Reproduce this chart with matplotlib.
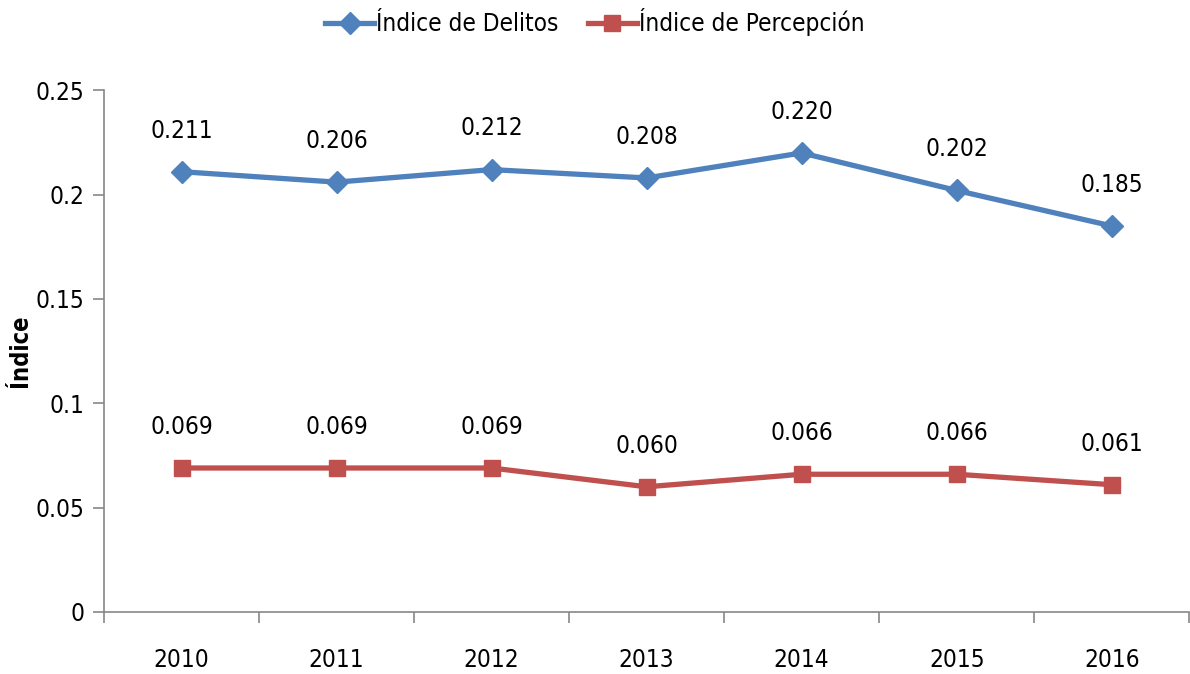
import matplotlib
matplotlib.use("Agg")
import matplotlib.pyplot as plt
from matplotlib.ticker import FixedLocator, NullFormatter

plt.rcParams['font.family'] = ['DejaVu Sans']
plt.rcParams['font.stretch'] = 'condensed'

years = ['2010', '2011', '2012', '2013', '2014', '2015', '2016']
delitos = [0.211, 0.206, 0.212, 0.208, 0.220, 0.202, 0.185]
percepcion = [0.069, 0.069, 0.069, 0.060, 0.066, 0.066, 0.061]

blue = '#4F81BD'
red = '#C0504D'

fig = plt.figure(figsize=(11.9, 6.74), dpi=100)
ax = fig.add_axes([0.0874, 0.092, 0.912, 0.774])

x = list(range(len(years)))
ax.plot(x, delitos, color=blue, linewidth=3.8, marker='D', markersize=11,
        label='Índice de Delitos')
ax.plot(x, percepcion, color=red, linewidth=3.8, marker='s', markersize=11,
        label='Índice de Percepción')

for xi, v in zip(x, delitos):
    ax.annotate(f'{v:.3f}', (xi, v), xytext=(0, 21), textcoords='offset points',
                ha='center', va='bottom', fontsize=17.5)
for xi, v in zip(x, percepcion):
    ax.annotate(f'{v:.3f}', (xi, v), xytext=(0, 21), textcoords='offset points',
                ha='center', va='bottom', fontsize=17.5)

ax.set_xlim(-0.5, len(years) - 0.5)
ax.set_ylim(0, 0.25)
ax.set_yticks([0, 0.05, 0.1, 0.15, 0.2, 0.25])
ax.set_yticklabels(['0', '0.05', '0.1', '0.15', '0.2', '0.25'], fontsize=17.5)

ax.xaxis.set_major_locator(FixedLocator([i - 0.5 for i in range(len(years) + 1)]))
ax.xaxis.set_major_formatter(NullFormatter())
ax.xaxis.set_minor_locator(FixedLocator(x))
ax.set_xticklabels(years, minor=True, fontsize=17.5)
ax.tick_params(axis='x', which='minor', length=0, pad=26)
ax.tick_params(axis='x', which='major', length=8, width=1.2, color='#888888', direction='out')
ax.tick_params(axis='y', length=8, width=1.2, color='#888888', direction='out', pad=6)

for s in ['top', 'right']:
    ax.spines[s].set_visible(False)
for s in ['left', 'bottom']:
    ax.spines[s].set_color('#888888')
    ax.spines[s].set_linewidth(1.2)

ax.set_ylabel('Índice', fontsize=17, fontweight='bold', labelpad=3)

fig.legend(loc='upper center', bbox_to_anchor=(0.5, 1.02), ncol=2, frameon=False,
           fontsize=17.5, handlelength=2.0, columnspacing=1.2, handletextpad=0.1)

fig.savefig('out.png', dpi=100)
